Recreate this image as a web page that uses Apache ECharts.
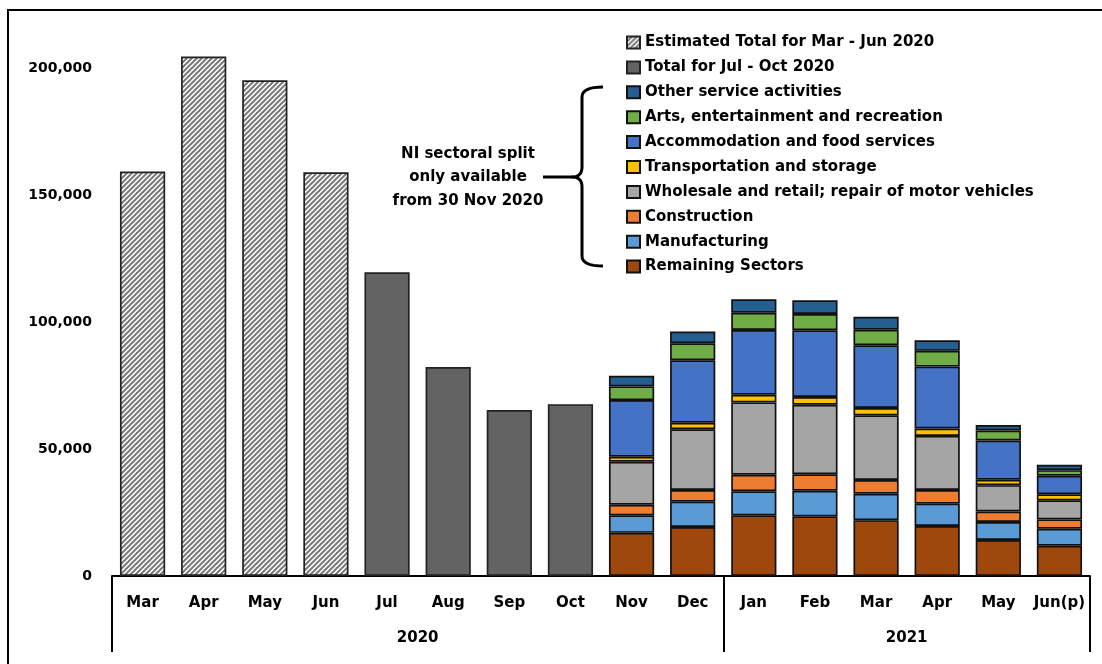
<!DOCTYPE html>
<html>
<head>
<meta charset="utf-8">
<script src="https://cdn.jsdelivr.net/npm/echarts@6/dist/echarts.min.js"></script>
<style>
  html, body { margin: 0; padding: 0; background: #fff; }
  #chart { width: 1102px; height: 664px; }
</style>
</head>
<body>
<div id="chart"></div>
<script>
const months = ['Mar', 'Apr', 'May', 'Jun', 'Jul', 'Aug', 'Sep', 'Oct', 'Nov', 'Dec',
  'Jan', 'Feb', 'Mar', 'Apr', 'May', 'Jun(p)'];
const years = ['', '', '', '', '', '2020', '', '', '', '', '', '', '', '2021', '', '', ''];
const yTicks = [0, 50000, 100000, 150000, 200000];

// Mar - Jun 2020 (estimated)
const estTotal = [159400, 204700, 195300, 159100];
// Jul - Oct 2020
const julOctTotal = [119700, 82300, 65400, 67700];
// Nov 2020 - Jun(p) 2021
const remaining = [17000, 19300, 23900, 23500, 22000, 19700, 14200, 11900];
const manufacturing = [6900, 10000, 9500, 10100, 10400, 8800, 7100, 6700];
const construction = [4200, 4600, 6500, 6500, 5400, 5400, 4100, 3700];
const wholesale = [16900, 23900, 28500, 27400, 25500, 21300, 10400, 7500];
const transport = [2000, 2600, 3000, 3000, 2900, 2900, 2100, 2400];
const accommodation = [22300, 24600, 25500, 26300, 24700, 24400, 15500, 7300];
const arts = [5400, 6700, 6800, 6400, 6100, 6200, 3900, 2200];
const other = [4200, 4600, 5300, 5400, 5100, 4200, 2200, 2100];

const FONT = 'DejaVu Sans';

function place(values, start) {
  let out = [];
  for (let i = 0; i < months.length; i++) {
    let j = i - start;
    out.push(j >= 0 && j < values.length ? values[j] : '-');
  }
  return out;
}

function hatch() {
  let c = document.createElement('canvas');
  c.width = 5;
  c.height = 5;
  let g = c.getContext('2d');
  g.fillStyle = '#ffffff';
  g.fillRect(0, 0, 5, 5);
  g.strokeStyle = '#7a7a7a';
  g.lineWidth = 2;
  g.beginPath();
  g.moveTo(0, 5); g.lineTo(5, 0);
  g.moveTo(-2.5, 2.5); g.lineTo(2.5, -2.5);
  g.moveTo(2.5, 7.5); g.lineTo(7.5, 2.5);
  g.stroke();
  return c;
}

// curly brace outline as points (quadratic corners)
function curve(p0, p1, p2, out) {
  for (let t = 0; t <= 1.0001; t += 0.125) {
    let a = (1 - t) * (1 - t), b = 2 * t * (1 - t), c = t * t;
    out.push([a * p0[0] + b * p1[0] + c * p2[0], a * p0[1] + b * p1[1] + c * p2[1]]);
  }
}
function bracePoints() {
  let pts = [];
  curve([603, 87], [582, 87], [582, 97], pts);
  curve([582, 167], [582, 177], [572, 177], pts);
  curve([572, 177], [582, 177], [582, 187], pts);
  curve([582, 256], [582, 266], [603, 266], pts);
  return pts;
}

function bar(name, data, color, border) {
  return {
    name: name,
    type: 'bar',
    stack: 'all',
    data: data,
    barCategoryGap: '26%',
    itemStyle: { color: color, borderColor: border || '#111', borderWidth: 1.7 },
    emphasis: { disabled: true }
  };
}

const series = [
  bar('Estimated Total for Mar - Jun 2020', place(estTotal, 0), { image: hatch(), repeat: 'repeat' }, '#222'),
  bar('Total for Jul - Oct 2020', place(julOctTotal, 4), '#636363', '#222'),
  bar('Remaining Sectors', place(remaining, 8), '#9E480E'),
  bar('Manufacturing', place(manufacturing, 8), '#5B9BD5'),
  bar('Construction', place(construction, 8), '#ED7D31'),
  bar('Wholesale and retail; repair of motor vehicles', place(wholesale, 8), '#A5A5A5'),
  bar('Transportation and storage', place(transport, 8), '#FFC000'),
  bar('Accommodation and food services', place(accommodation, 8), '#4472C4'),
  bar('Arts, entertainment and recreation', place(arts, 8), '#70AD47'),
  bar('Other service activities', place(other, 8), '#255E91')
];

const legendOrder = [
  'Estimated Total for Mar - Jun 2020',
  'Total for Jul - Oct 2020',
  'Other service activities',
  'Arts, entertainment and recreation',
  'Accommodation and food services',
  'Transportation and storage',
  'Wholesale and retail; repair of motor vehicles',
  'Construction',
  'Manufacturing',
  'Remaining Sectors'
];

let chart = echarts.init(document.getElementById('chart'), null, { renderer: 'canvas' });

chart.setOption({
  animation: false,
  backgroundColor: '#fff',
  grid: { left: 112, right: 12, top: 43, bottom: 88, containLabel: false },
  legend: {
    data: legendOrder,
    orient: 'vertical',
    left: 626,
    top: 35,
    padding: 0,
    itemWidth: 13,
    itemHeight: 12,
    itemGap: 9.9,
    icon: 'rect',
    selectedMode: false,
    textStyle: { fontFamily: FONT, fontWeight: 'bold', fontSize: 15, color: '#000' }
  },
  xAxis: [{
    type: 'category',
    data: months,
    position: 'bottom',
    axisLine: { show: true, lineStyle: { color: '#000', width: 2 } },
    axisTick: { show: false },
    axisLabel: { interval: 0, margin: 20, fontFamily: FONT, fontWeight: 'bold', fontSize: 15, color: '#000' }
  }, {
    type: 'category',
    data: years,
    boundaryGap: false,
    position: 'bottom',
    axisLine: { show: false },
    axisTick: {
      show: true,
      length: 76,
      inside: false,
      interval: (i) => i === 0 || i === 10 || i === 16,
      lineStyle: { color: '#000', width: 2 }
    },
    axisLabel: { interval: 0, margin: 55, fontFamily: FONT, fontWeight: 'bold', fontSize: 15, color: '#000' }
  }],
  yAxis: {
    type: 'value',
    min: yTicks[0],
    max: 210000,
    interval: yTicks[1] - yTicks[0],
    splitLine: { show: false },
    axisLine: { show: false },
    axisTick: { show: false },
    axisLabel: {
      showMaxLabel: false,
      margin: 20,
      fontFamily: FONT,
      fontWeight: 'bold',
      fontSize: 14,
      color: '#000',
      formatter: (v) => v > yTicks[yTicks.length - 1] ? '' : v.toLocaleString('en-US')
    }
  },
  graphic: [{
    type: 'rect',
    shape: { x: 8, y: 10, width: 1200, height: 800 },
    style: { fill: 'none', stroke: '#000', lineWidth: 2 },
    silent: true
  }, {
    type: 'polyline',
    shape: { points: bracePoints() },
    style: { fill: 'none', stroke: '#000', lineWidth: 3 },
    silent: true
  }, {
    type: 'line',
    shape: { x1: 543, y1: 177, x2: 573, y2: 177 },
    style: { stroke: '#000', lineWidth: 3 },
    silent: true
  }, {
    type: 'text',
    x: 468,
    y: 142,
    style: {
      text: 'NI sectoral split\nonly available\nfrom 30 Nov 2020',
      align: 'center',
      lineHeight: 23.5,
      fontFamily: FONT,
      fontWeight: 'bold',
      fontSize: 15,
      fill: '#000'
    },
    silent: true
  }],
  series: series
});
</script>
</body>
</html>
